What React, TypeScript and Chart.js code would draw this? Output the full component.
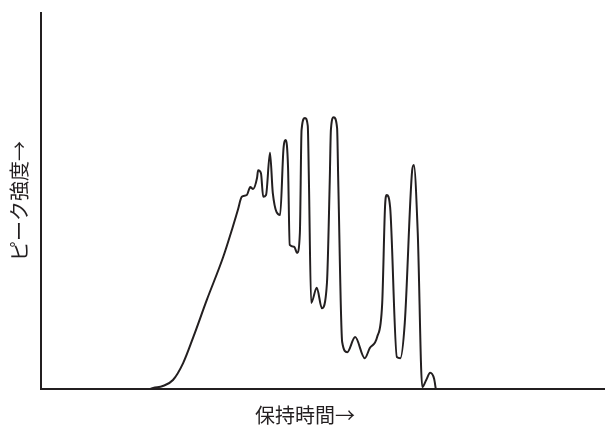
import React, { useEffect, useRef } from "react";
import { Chart, registerables } from "chart.js";

Chart.register(...registerables);

const xTitle = "保持時間→";
const yTitle = "ピーク強度→";

const retentionTime = [
  19.3, 19.9, 21.6, 23.4, 25.2, 27.0, 29.4, 32.3, 34.0, 34.9, 35.6, 36.5, 37.1, 37.6, 38.3, 38.5,
  39.0, 39.4, 39.9, 40.6, 41.1, 42.4, 43.0, 43.4, 43.8, 44.1, 44.9, 45.4, 45.9, 46.2, 46.8, 47.3,
  47.5, 47.9, 48.9, 49.8, 50.7, 51.2, 51.4, 51.9, 52.5, 52.7, 53.4, 54.3, 55.7, 57.4, 58.3, 59.6,
  60.5, 61.0, 61.3, 61.9, 63.1, 63.7, 64.5, 65.8, 66.1, 66.8, 67.6, 68.3, 69.0, 69.7, 70.0,
];

const peakIntensity = [
  0, 0.3, 0.8, 2.4, 6.9, 13.8, 23.7, 35.1, 43.1, 47.6, 51.1, 51.6, 53.7, 53.2, 56.1, 58.2,
  57.4, 51.1, 51.6, 62.8, 52.1, 46.3, 64.0, 66.2, 59.0, 38.3, 37.8, 36.2, 41.5, 68.9, 72.1, 70.0,
  55.6, 22.9, 26.9, 21.5, 28.2, 55.6, 68.9, 72.3, 69.4, 55.6, 12.5, 9.8, 13.8, 8.2, 10.9, 13.8,
  22.9, 48.5, 51.6, 48.4, 8.5, 8.2, 17.6, 58.0, 59.6, 41.5, 0.5, 2.4, 4.3, 2.7, 0,
];

const INK = "#231f20";
const FONT = '"Noto Sans CJK JP", sans-serif';

const titlePlugin = {
  id: "axisTitles",
  afterDraw(chart: any) {
    const ctx = chart.ctx as CanvasRenderingContext2D;
    const area = chart.chartArea;
    ctx.save();
    ctx.fillStyle = INK;
    ctx.font = `20px ${FONT}`;
    ctx.textAlign = "center";
    ctx.textBaseline = "middle";
    ctx.fillText(xTitle, 305, area.bottom + 26);
    ctx.translate(19, (area.top + area.bottom) / 2);
    ctx.rotate(-Math.PI / 2);
    ctx.fillText(yTitle, 0, 0);
    ctx.restore();
  },
};

export default function App() {
  const ref = useRef<HTMLCanvasElement | null>(null);

  useEffect(() => {
    if (!ref.current) return;
    const points = retentionTime.map((t, i) => ({ x: t, y: peakIntensity[i] }));
    const chart = new Chart(ref.current, {
      type: "line",
      data: {
        datasets: [
          {
            data: points,
            borderColor: INK,
            borderWidth: 2,
            pointRadius: 0,
            fill: false,
            cubicInterpolationMode: "monotone",
          },
        ],
      },
      options: {
        animation: false,
        responsive: true,
        maintainAspectRatio: false,
        layout: { padding: { left: 41, top: 13, right: 0, bottom: 42 } },
        plugins: { legend: { display: false }, tooltip: { enabled: false } },
        scales: {
          x: {
            type: "linear",
            min: 0,
            max: 100,
            ticks: { display: false },
            grid: { display: false, drawTicks: false },
            border: { display: true, color: INK, width: 2 },
          },
          y: {
            type: "linear",
            min: 0,
            max: 100,
            ticks: { display: false },
            grid: { display: false, drawTicks: false },
            border: { display: true, color: INK, width: 2 },
          },
        },
      },
      plugins: [titlePlugin],
    });
    return () => chart.destroy();
  }, []);

  return (
    <div style={{ position: "absolute", left: 0, top: 0, width: 605, height: 431, background: "#fff" }}>
      <canvas ref={ref} />
    </div>
  );
}
